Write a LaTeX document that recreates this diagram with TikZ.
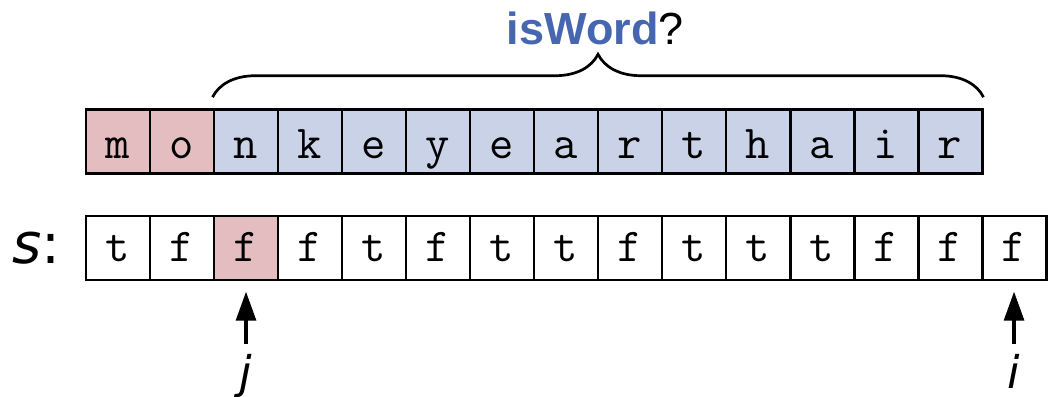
\documentclass[tikz,border=0pt]{standalone}
\usepackage{fontspec}
\setmainfont{Liberation Sans}
\newfontfamily\varfont{DejaVu Sans}
\usepackage{xcolor}
\usetikzlibrary{arrows.meta,positioning,calc,decorations.pathreplacing}
\definecolor{skipped}{HTML}{E3BDBF}
\definecolor{suffix}{HTML}{C9D2E7}
\definecolor{query}{HTML}{4766B0}

\begin{document}
\begin{tikzpicture}[>=Latex,
  cell/.style={draw,line width=1.3pt,minimum width=1cm,minimum height=1cm,inner sep=0pt,
    font=\fontsize{21}{24}\selectfont\ttfamily},
  letter/.style={cell,text height=0.6cm,text depth=0.084cm},
  flag/.style={cell,fill=white,text height=0.6cm,text depth=0.17cm},
  ptr/.style={-{Triangle[width=0.31cm,length=0.45cm]},line width=1.4pt,
    shorten <=0.16cm,shorten >=0.16cm},
  ptrlbl/.style={inner sep=0pt,anchor=base,font=\fontsize{20}{24}\selectfont\varfont\itshape}]
\useasboundingbox (0,0) rectangle (16.453,-6.203);

% the string, prefix already consumed in red
\foreach \ch/\fc [count=\k] in {m/skipped,o/skipped,n/suffix,k/suffix,e/suffix,y/suffix,
    e/suffix,a/suffix,r/suffix,t/suffix,h/suffix,a/suffix,i/suffix,r/suffix}
  \node[letter,fill=\fc] (t\k) at ({1.344+\k-0.5},-2.211) {\ch};

% table s
\foreach \ch [count=\k] in {t,f,f,f,t,f,t,t,f,t,t,t,f,f,f}
  \node[flag] (s\k) at ({1.344+\k-0.5},-3.875) {\ch};
\node[flag,fill=skipped] at (s3) {f};
\node[anchor=base east,inner sep=0pt,font=\fontsize{25}{28}\selectfont\varfont]
  (slbl) at ($(s1.west)+(-0.37,-0.235)$) {\textit{s}:};

\draw[decorate,decoration={brace,amplitude=0.67cm},line width=1.2pt]
  ([yshift=0.17cm]t3.north west) -- ([yshift=0.17cm]t14.north east);
\node[anchor=base,inner sep=0pt,font=\fontsize{20}{24}\selectfont] (title) at (9.30,-0.70)
  {\textbf{\color{query}isWord}?};

\node[ptrlbl] (j) at ($(s3.south)+(0,-1.675)$) {j};
\node[ptrlbl] (i) at ($(s15.south)+(0,-1.675)$) {i};
\draw[ptr] (j.north) -- (s3.south);
\draw[ptr] (i.north) -- (s15.south);
\end{tikzpicture}
\end{document}
